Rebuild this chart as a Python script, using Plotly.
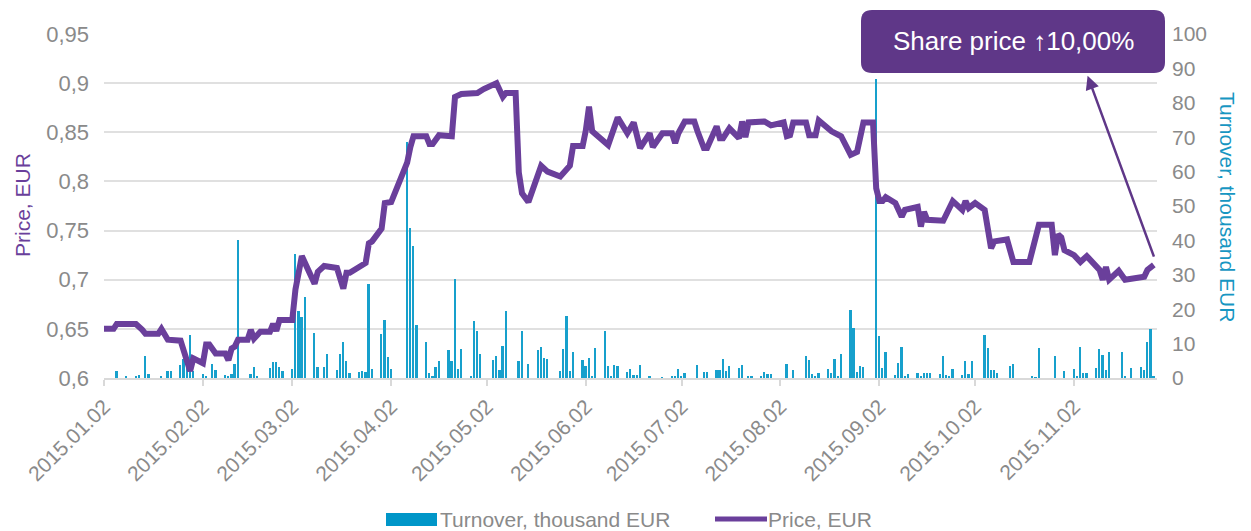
import plotly.graph_objects as go

# share price, EUR (left axis)
price_days = ["01-02", "01-05", "01-06", "01-12", "01-14", "01-15", "01-19", "01-20", "01-22", "01-26",
              "01-29", "01-30", "02-02", "02-03", "02-04", "02-06", "02-09", "02-10", "02-11", "02-12",
              "02-13", "02-16", "02-17", "02-18", "02-20", "02-23", "02-24", "02-25", "02-26", "03-02",
              "03-03", "03-04", "03-05", "03-09", "03-10", "03-12", "03-16", "03-18", "03-19", "03-20",
              "03-25", "03-26", "03-27", "03-30", "03-31", "04-02", "04-07", "04-08", "04-09", "04-13",
              "04-14", "04-15", "04-17", "04-21", "04-22", "04-24", "04-29", "05-01", "05-05", "05-07",
              "05-08", "05-11", "05-12", "05-13", "05-15", "05-19", "05-21", "05-25", "05-27", "05-28",
              "05-29", "06-01", "06-02", "06-03", "06-04", "06-09", "06-12", "06-15", "06-17", "06-19",
              "06-22", "06-23", "06-26", "06-29", "06-30", "07-01", "07-03", "07-06", "07-07", "07-09",
              "07-10", "07-13", "07-14", "07-15", "07-17", "07-20", "07-21", "07-22", "07-23", "07-28",
              "07-30", "08-03", "08-04", "08-05", "08-06", "08-10", "08-11", "08-13", "08-14", "08-18",
              "08-21", "08-24", "08-26", "08-28", "08-31", "09-01", "09-02", "09-03", "09-04", "09-07",
              "09-09", "09-10", "09-14", "09-15", "09-16", "09-17", "09-22", "09-25", "09-28", "09-29",
              "09-30", "10-02", "10-05", "10-07", "10-08", "10-12", "10-14", "10-19", "10-22", "10-26",
              "10-27", "10-28", "10-29", "10-30", "11-02", "11-04", "11-06", "11-09", "11-10", "11-11",
              "11-12", "11-13", "11-16", "11-18", "11-20", "11-23", "11-24", "11-25", "11-26", "11-27"]
price_values = [0.650, 0.650, 0.655, 0.655, 0.649, 0.645, 0.645, 0.650, 0.639, 0.638,
                0.607, 0.620, 0.615, 0.634, 0.634, 0.625, 0.625, 0.618, 0.630, 0.632,
                0.639, 0.639, 0.649, 0.640, 0.647, 0.647, 0.655, 0.648, 0.659, 0.659,
                0.690, 0.709, 0.724, 0.696, 0.708, 0.714, 0.712, 0.691, 0.707, 0.707,
                0.717, 0.737, 0.739, 0.752, 0.778, 0.779, 0.819, 0.835, 0.846, 0.846,
                0.838, 0.838, 0.847, 0.846, 0.886, 0.889, 0.890, 0.894, 0.900, 0.886,
                0.890, 0.890, 0.809, 0.788, 0.779, 0.816, 0.810, 0.805, 0.813, 0.816,
                0.836, 0.836, 0.852, 0.876, 0.851, 0.837, 0.865, 0.849, 0.860, 0.834,
                0.849, 0.835, 0.849, 0.849, 0.839, 0.849, 0.861, 0.861, 0.851, 0.834,
                0.834, 0.856, 0.844, 0.844, 0.854, 0.844, 0.861, 0.845, 0.860, 0.861,
                0.857, 0.860, 0.846, 0.847, 0.860, 0.860, 0.847, 0.847, 0.862, 0.851,
                0.846, 0.827, 0.830, 0.860, 0.860, 0.793, 0.780, 0.780, 0.784, 0.778,
                0.764, 0.771, 0.774, 0.754, 0.769, 0.761, 0.760, 0.780, 0.771, 0.780,
                0.773, 0.778, 0.771, 0.732, 0.739, 0.741, 0.718, 0.718, 0.756, 0.756,
                0.725, 0.746, 0.743, 0.730, 0.725, 0.718, 0.724, 0.713, 0.710, 0.700,
                0.713, 0.700, 0.709, 0.700, 0.701, 0.703, 0.703, 0.710, 0.713, 0.715]

# turnover, thousand EUR (right axis)
turnover_days = ["01-06", "01-09", "01-12", "01-13", "01-15", "01-16", "01-20", "01-22", "01-23", "01-26",
                 "01-27", "01-28", "01-29", "01-30", "02-02", "02-03", "02-05", "02-06", "02-09", "02-10",
                 "02-11", "02-12", "02-13", "02-17", "02-18", "02-19", "02-23", "02-24", "02-25", "02-26",
                 "02-27", "03-02", "03-03", "03-04", "03-05", "03-06", "03-09", "03-10", "03-12", "03-13",
                 "03-16", "03-17", "03-18", "03-19", "03-20", "03-23", "03-24", "03-25", "03-26", "03-27",
                 "03-30", "03-31", "04-01", "04-02", "04-07", "04-08", "04-09", "04-10", "04-13", "04-14",
                 "04-15", "04-16", "04-17", "04-20", "04-21", "04-22", "04-23", "04-24", "04-27", "04-28",
                 "04-29", "04-30", "05-04", "05-05", "05-06", "05-07", "05-08", "05-12", "05-13", "05-15",
                 "05-18", "05-19", "05-20", "05-21", "05-25", "05-26", "05-27", "05-28", "05-29", "06-01",
                 "06-02", "06-03", "06-04", "06-05", "06-08", "06-09", "06-10", "06-11", "06-12", "06-15",
                 "06-16", "06-17", "06-18", "06-19", "06-22", "06-26", "06-29", "06-30", "07-01", "07-02",
                 "07-03", "07-07", "07-09", "07-10", "07-13", "07-14", "07-15", "07-16", "07-17", "07-20",
                 "07-21", "07-23", "07-24", "07-27", "07-28", "07-29", "07-30", "08-04", "08-06", "08-10",
                 "08-11", "08-12", "08-13", "08-14", "08-17", "08-18", "08-19", "08-20", "08-21", "08-24",
                 "08-25", "08-26", "08-27", "08-28", "09-01", "09-02", "09-03", "09-04", "09-07", "09-08",
                 "09-09", "09-10", "09-11", "09-14", "09-15", "09-16", "09-17", "09-18", "09-21", "09-22",
                 "09-23", "09-24", "09-25", "09-28", "09-29", "09-30", "10-01", "10-05", "10-06", "10-07",
                 "10-08", "10-09", "10-13", "10-14", "10-20", "10-21", "10-22", "10-27", "10-30", "11-02",
                 "11-03", "11-04", "11-05", "11-06", "11-09", "11-10", "11-11", "11-12", "11-13", "11-17",
                 "11-18", "11-20", "11-23", "11-24", "11-25", "11-26", "11-27"]
turnover_values = [2.0, 0.3, 0.6, 1.0, 6.3, 1.2, 0.3, 2.0, 1.9, 3.7,
                   5.4, 3.0, 12.5, 2.0, 1.3, 0.3, 4.0, 2.3, 0.8, 0.3,
                   1.2, 4.1, 40.0, 1.1, 3.1, 0.3, 2.8, 4.6, 4.6, 3.2,
                   2.1, 2.5, 36.0, 19.6, 17.6, 23.5, 13.2, 3.3, 3.2, 6.9,
                   2.3, 7.0, 10.5, 4.9, 1.4, 1.7, 2.1, 1.7, 27.3, 2.7,
                   12.8, 16.8, 6.2, 2.6, 68.5, 43.6, 38.5, 15.5, 10.5, 1.4,
                   0.6, 3.3, 4.9, 8.0, 5.0, 28.9, 2.7, 8.3, 0.3, 16.7,
                   13.6, 7.1, 5.2, 6.3, 2.2, 9.4, 19.6, 4.9, 13.6, 4.2,
                   8.1, 9.0, 5.8, 5.5, 2.1, 8.5, 18.0, 2.0, 7.6, 5.3,
                   3.6, 5.8, 0.7, 8.7, 13.6, 3.4, 0.7, 3.7, 3.4, 1.8,
                   2.6, 1.0, 1.0, 3.9, 0.7, 0.2, 0.7, 0.7, 2.7, 0.7,
                   1.5, 3.7, 1.8, 1.8, 2.2, 2.4, 5.5, 1.9, 3.6, 2.9,
                   3.9, 0.7, 0.7, 0.7, 1.8, 1.3, 1.2, 4.1, 2.4, 6.4,
                   5.1, 1.1, 0.6, 1.6, 2.6, 1.6, 5.6, 0.5, 7.0, 19.9,
                   14.6, 1.8, 3.4, 3.2, 86.8, 12.1, 3.0, 7.5, 1.0, 4.4,
                   8.9, 0.7, 1.2, 1.5, 0.5, 1.6, 1.6, 1.6, 1.2, 6.3,
                   1.0, 0.5, 2.6, 1.0, 5.0, 1.2, 5.0, 12.6, 8.6, 2.4,
                   2.4, 1.6, 3.4, 4.1, 0.5, 0.2, 8.8, 6.3, 2.1, 2.7,
                   0.5, 8.9, 1.6, 1.6, 3.0, 8.5, 6.8, 2.2, 7.6, 7.6,
                   0.3, 3.0, 3.2, 2.2, 10.5, 14.3, 0.5]

tick_days = ["01-02", "02-02", "03-02", "04-02", "05-02", "06-02", "07-02", "08-02", "09-02", "10-02", "11-02"]
price_ticks = [0.6, 0.65, 0.7, 0.75, 0.8, 0.85, 0.9, 0.95]
turnover_ticks = [0, 10, 20, 30, 40, 50, 60, 70, 80, 90, 100]
callout_text = "Share price \u219110,00%"
turnover_name = "Turnover, thousand EUR"
price_name = "Price, EUR"

price_dates = ["2015-" + d for d in price_days]
turnover_dates = ["2015-" + d for d in turnover_days]
tick_dates = ["2015-" + d for d in tick_days]

PURPLE = "#6a3f9b"
BOX = "#5f3788"
TEAL = "#17a0cc"
GREY = "#8a8a8a"
GRID = "#e0e0e0"
FONT = "Arial, Liberation Sans, sans-serif"
FS = 21

# page has an 8px body margin, so the figure is 8px smaller than the window
OFF = 8
W, H = 1251 - OFF, 531 - OFF
L, R, T, B = 104 - OFF, 94, 34 - OFF, 153
PW, PH = W - L - R, H - T - B


def paper(px, py):
    # page pixel -> paper coords
    return (px - OFF - L) / PW, (H - B - (py - OFF)) / PH


def rounded_box(x0, y0, x1, y1, r):
    pts = [("M", [(x0 + r, y0)]), ("L", [(x1 - r, y0)]), ("Q", [(x1, y0), (x1, y0 + r)]),
           ("L", [(x1, y1 - r)]), ("Q", [(x1, y1), (x1 - r, y1)]), ("L", [(x0 + r, y1)]),
           ("Q", [(x0, y1), (x0, y1 - r)]), ("L", [(x0, y0 + r)]), ("Q", [(x0, y0), (x0 + r, y0)])]
    out = ""
    for cmd, coords in pts:
        out += cmd + " " + " ".join("%.5f,%.5f" % paper(px, py) for px, py in coords) + " "
    return out + "Z"


fig = go.Figure()

fig.add_trace(go.Bar(
    x=turnover_dates, y=turnover_values, name=turnover_name,
    marker=dict(color=TEAL, line=dict(width=0)), width=0.55 * 86400000, yaxis="y",
))
fig.add_trace(go.Scatter(
    x=price_dates, y=price_values, name=price_name, mode="lines",
    line=dict(color=PURPLE, width=6), yaxis="y2",
))

cx, cy = paper(1013, 41)
lx, ly = paper(22, 205)
rx, ry = paper(1228, 207)

# hand-made legend (wide swatches like the original)
sw0 = paper(386, 513)
sw1 = paper(437, 526)
pl0 = paper(715, 519)
pl1 = paper(767, 519)
t1 = paper(441, 519)
t2 = paper(769, 519)

fig.update_layout(
    width=W, height=H,
    margin=dict(l=L, r=R, t=T, b=B, autoexpand=False),
    paper_bgcolor="white", plot_bgcolor="white",
    font=dict(family=FONT, size=FS, color=GREY),
    bargap=0,
    showlegend=False,
    xaxis=dict(
        type="date", range=["2015-01-02", "2015-11-28"],
        tickvals=tick_dates, ticktext=[d.replace("-", ".") for d in tick_dates],
        tickangle=-45, ticks="outside", ticklen=6, tickcolor="#d9d9d9", tickwidth=1.5,
        showline=True, linecolor="#d9d9d9", linewidth=2, showgrid=False, zeroline=False,
        tickfont=dict(size=FS, color=GREY), ticklabelstandoff=0,
    ),
    yaxis=dict(
        side="right", range=[0, 100], tickvals=turnover_ticks,
        ticktext=[str(v) for v in turnover_ticks], showgrid=False, zeroline=False,
        tickfont=dict(size=FS, color=GREY), ticklabelstandoff=14,
    ),
    yaxis2=dict(
        side="left", overlaying="y", range=[0.6, 0.95], tickvals=price_ticks,
        ticktext=[str(v).replace(".", ",") for v in price_ticks],
        showgrid=True, gridcolor=GRID, gridwidth=1.5, zeroline=False,
        tickfont=dict(size=FS + 1, color=GREY), ticklabelstandoff=14,
    ),
    shapes=[
        dict(type="path", xref="paper", yref="paper", path=rounded_box(861, 10, 1165, 73, 11),
             fillcolor=BOX, line=dict(width=0), layer="above"),
        dict(type="rect", xref="paper", yref="paper", x0=sw0[0], y0=sw0[1], x1=sw1[0], y1=sw1[1],
             fillcolor="#0096c8", line=dict(width=0)),
        dict(type="line", xref="paper", yref="paper", x0=pl0[0], y0=pl0[1], x1=pl1[0], y1=pl1[1],
             line=dict(color=PURPLE, width=5)),
    ],
    annotations=[
        dict(xref="paper", yref="paper", x=cx, y=cy, text=callout_text, showarrow=False,
             font=dict(size=26, color="white"), xanchor="center", yanchor="middle"),
        dict(xref="x", yref="y2", x="2015-11-06 06:00", y=0.9075,
             axref="x", ayref="y2", ax="2015-11-27 05:00", ay=0.722,
             text="", showarrow=True, arrowhead=2, arrowsize=1.1, arrowwidth=2.5, arrowcolor=BOX),
        dict(xref="paper", yref="paper", x=lx, y=ly, text=price_name, textangle=-90,
             showarrow=False, font=dict(size=FS, color=PURPLE), xanchor="center", yanchor="middle"),
        dict(xref="paper", yref="paper", x=rx, y=ry, text=turnover_name, textangle=90,
             showarrow=False, font=dict(size=FS, color="#1796c2"), xanchor="center", yanchor="middle"),
        dict(xref="paper", yref="paper", x=t1[0], y=t1[1], text=turnover_name, showarrow=False,
             font=dict(size=FS, color=GREY), xanchor="left", yanchor="middle", xshift=-3),
        dict(xref="paper", yref="paper", x=t2[0], y=t2[1], text=price_name, showarrow=False,
             font=dict(size=FS, color=GREY), xanchor="left", yanchor="middle", xshift=-3),
    ],
)

fig.write_html("out.html")
